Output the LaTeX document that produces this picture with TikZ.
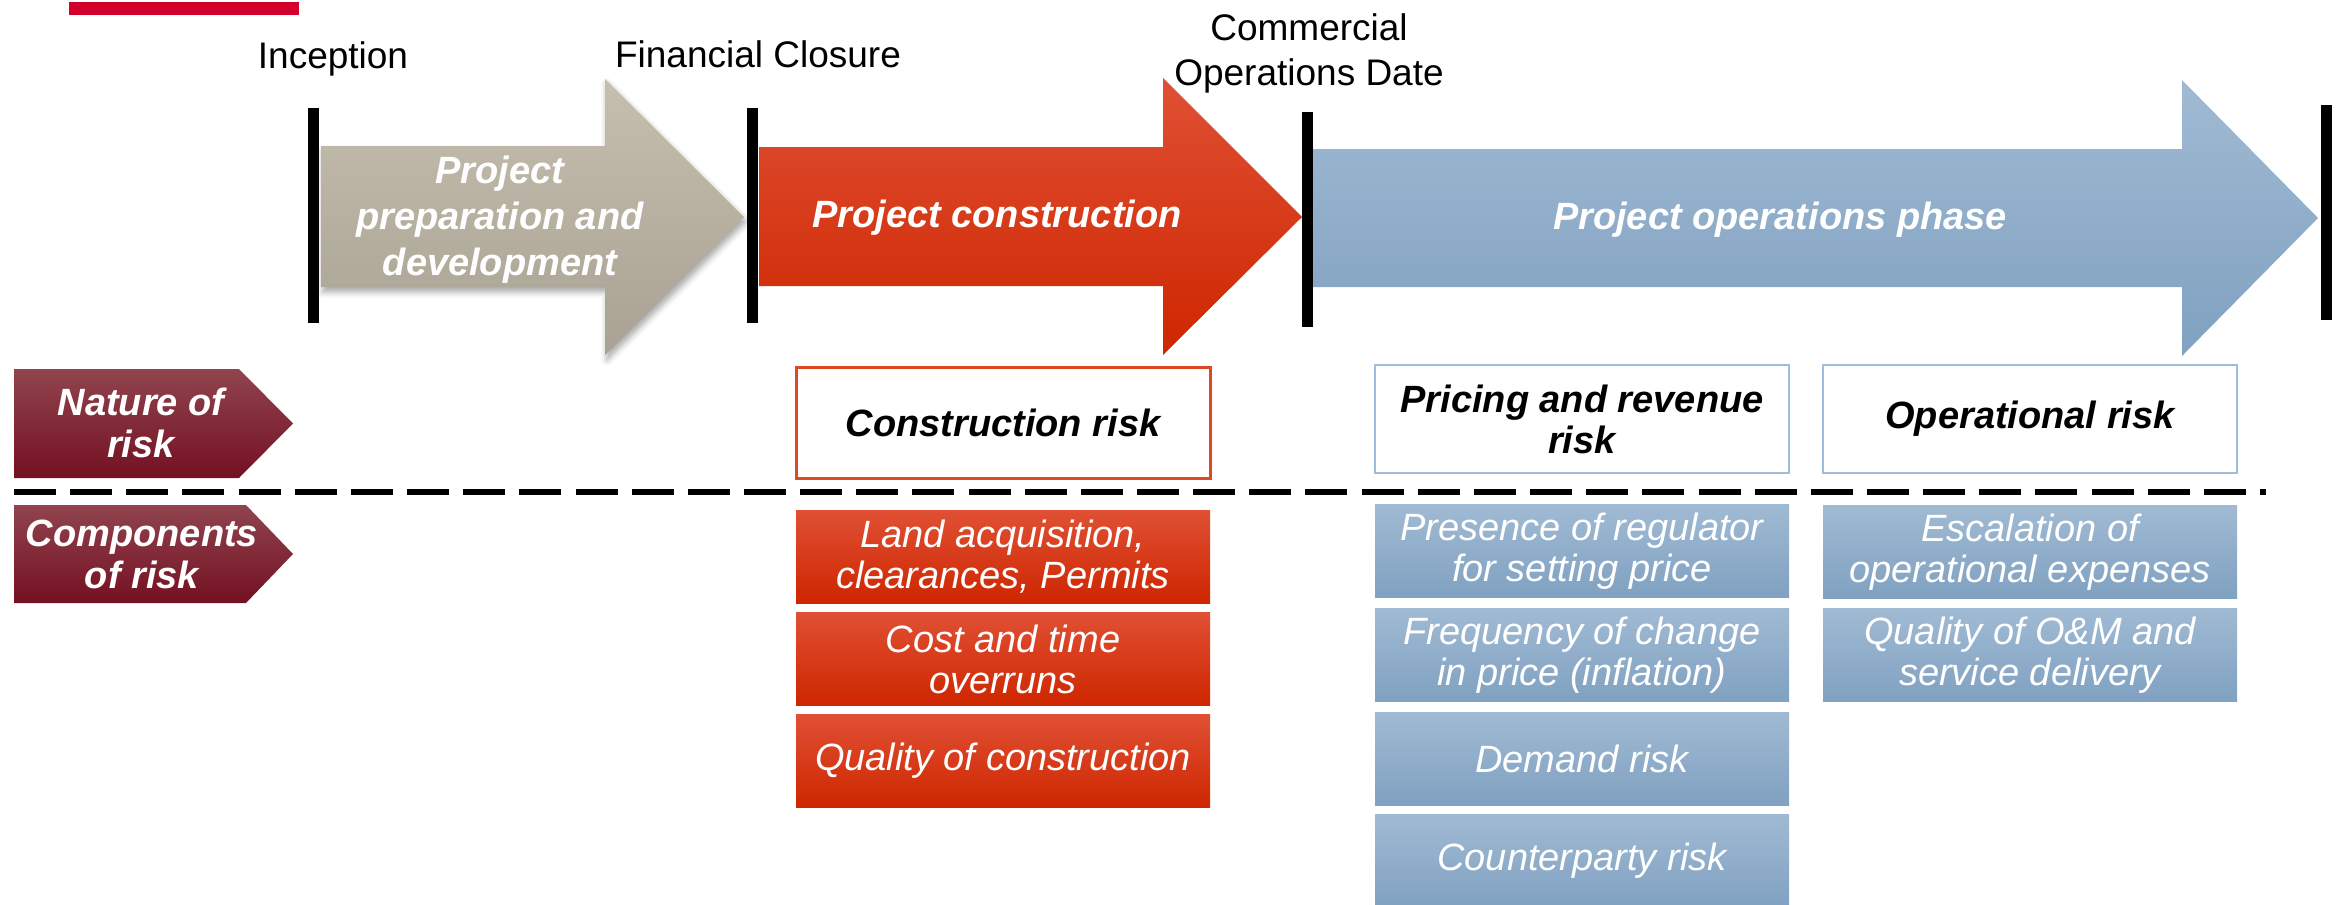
\documentclass[tikz,border=0pt]{standalone}
\usepackage{fontspec}
\setmainfont{Liberation Sans}
\usetikzlibrary{shadows.blur}

\definecolor{brandred}{RGB}{210,0,42}
\definecolor{prepTop}{RGB}{198,191,175}
\definecolor{prepBot}{RGB}{168,162,148}
\definecolor{consTop}{RGB}{224,80,52}
\definecolor{consBot}{RGB}{206,38,0}
\definecolor{operTop}{RGB}{160,186,211}
\definecolor{operBot}{RGB}{128,161,193}
\definecolor{tagTop}{RGB}{144,68,78}
\definecolor{tagBot}{RGB}{116,16,34}
\definecolor{consEdge}{RGB}{222,72,36}
\definecolor{operEdge}{RGB}{160,190,220}

\begin{document}
\begin{tikzpicture}[x=0.5pt,y=-0.5pt,
  lbl/.style={font=\fontsize{18.5}{22.5}\selectfont, text=black, inner sep=0, align=center},
  phasetext/.style={font=\fontsize{19}{23}\selectfont\bfseries\itshape, text=white, inner sep=0, align=center},
  milestone/.style={fill=black, draw=none, minimum width=5.5pt, minimum height=107.5pt, inner sep=0},
  tagtext/.style={font=\fontsize{19}{21}\selectfont\bfseries\itshape, text=white, inner sep=0, align=center},
  riskhead/.style={fill=white, minimum width=207pt, minimum height=54pt, inner sep=0, align=center,
                   font=\fontsize{19}{20.5}\selectfont\bfseries\itshape, text=black},
  comp/.style={minimum width=207pt, minimum height=46.5pt, inner sep=0, align=center, text=white,
               font=\fontsize{19}{20.5}\selectfont\itshape},
  redcomp/.style={comp, top color=consTop, bottom color=consBot},
  bluecomp/.style={comp, top color=operTop, bottom color=operBot},
  separator/.style={line width=2.8pt, dash pattern=on 21pt off 7.075pt}
]
\useasboundingbox (0,0) rectangle (2341,905);

% brand strip
\fill[brandred] (69,2) rectangle (299,15);

% phase arrows
\shade[top color=prepTop, bottom color=prepBot,
       blur shadow={shadow xshift=1pt, shadow yshift=-2.5pt, shadow blur radius=3pt, shadow opacity=35}]
  (321,146) -- (605,146) -- (605,79) -- (744,217) -- (605,355) -- (605,287) -- (321,287) -- cycle;
\shade[top color=consTop, bottom color=consBot]
  (759,147) -- (1163,147) -- (1163,78) -- (1302,217) -- (1163,355) -- (1163,286) -- (759,286) -- cycle;
\shade[top color=operTop, bottom color=operBot]
  (1312,149) -- (2182,149) -- (2182,80) -- (2318,218) -- (2182,356) -- (2182,287) -- (1312,287) -- cycle;

\node[phasetext] (prep) at (500,219.5) {Project\\preparation and\\development};
\node[phasetext] (cons) at (997,218) {Project construction};
\node[phasetext] (oper) at (1780,220) {Project operations phase};

% milestones
\node[milestone] (m1) at (313,215.5) {};
\node[milestone] (m2) at (752,215.5) {};
\node[milestone] (m3) at (1307,219) {};
\node[milestone] (m4) at (2326,212.5) {};

\node[lbl, anchor=base] (l1) at (333,68) {Inception};
\node[lbl, anchor=base] (l2) at (758,67) {Financial Closure};
\node[lbl] (l3) at (1309,53) {Commercial\\Operations Date};

% row tags
\shade[top color=tagTop, bottom color=tagBot]
  (14,369) -- (239,369) -- (293,423.5) -- (239,478) -- (14,478) -- cycle;
\node[tagtext] (nature) at (141,423) {Nature of\\risk};
\shade[top color=tagTop, bottom color=tagBot]
  (14,505) -- (246,505) -- (293,554) -- (246,603) -- (14,603) -- cycle;
\node[tagtext] (comps) at (142,554) {Components\\of risk};

% nature of risk
\node[riskhead, draw=consEdge, line width=1.5pt, minimum height=55.5pt] (hc) at (1003,422.5) {Construction risk};
\node[riskhead, draw=operEdge, line width=1pt] (hp) at (1582,419) {Pricing and revenue\\risk};
\node[riskhead, draw=operEdge, line width=1pt] (ho) at (2030,419) {Operational risk};

% separator
\coordinate (sepL) at (14,492);
\coordinate (sepR) at (2266,492);
\draw[separator] (sepL) -- (sepR);

% components of risk
\node[redcomp] (c1) at (1003,556.5) {Land acquisition,\\clearances, Permits};
\node[redcomp] (c2) at (1003,659) {Cost and time\\overruns};
\node[redcomp] (c3) at (1003,761) {Quality of construction};

\node[bluecomp] (p1) at (1582,551) {Presence of regulator\\for setting price};
\node[bluecomp] (p2) at (1582,655) {Frequency of change\\in price (inflation)};
\node[bluecomp] (p3) at (1582,758.5) {Demand risk};
\node[bluecomp] (p4) at (1582,860.5) {Counterparty risk};

\node[bluecomp] (o1) at (2030,552) {Escalation of\\operational expenses};
\node[bluecomp] (o2) at (2030,655) {Quality of O\&M and\\service delivery};
\end{tikzpicture}
\end{document}
